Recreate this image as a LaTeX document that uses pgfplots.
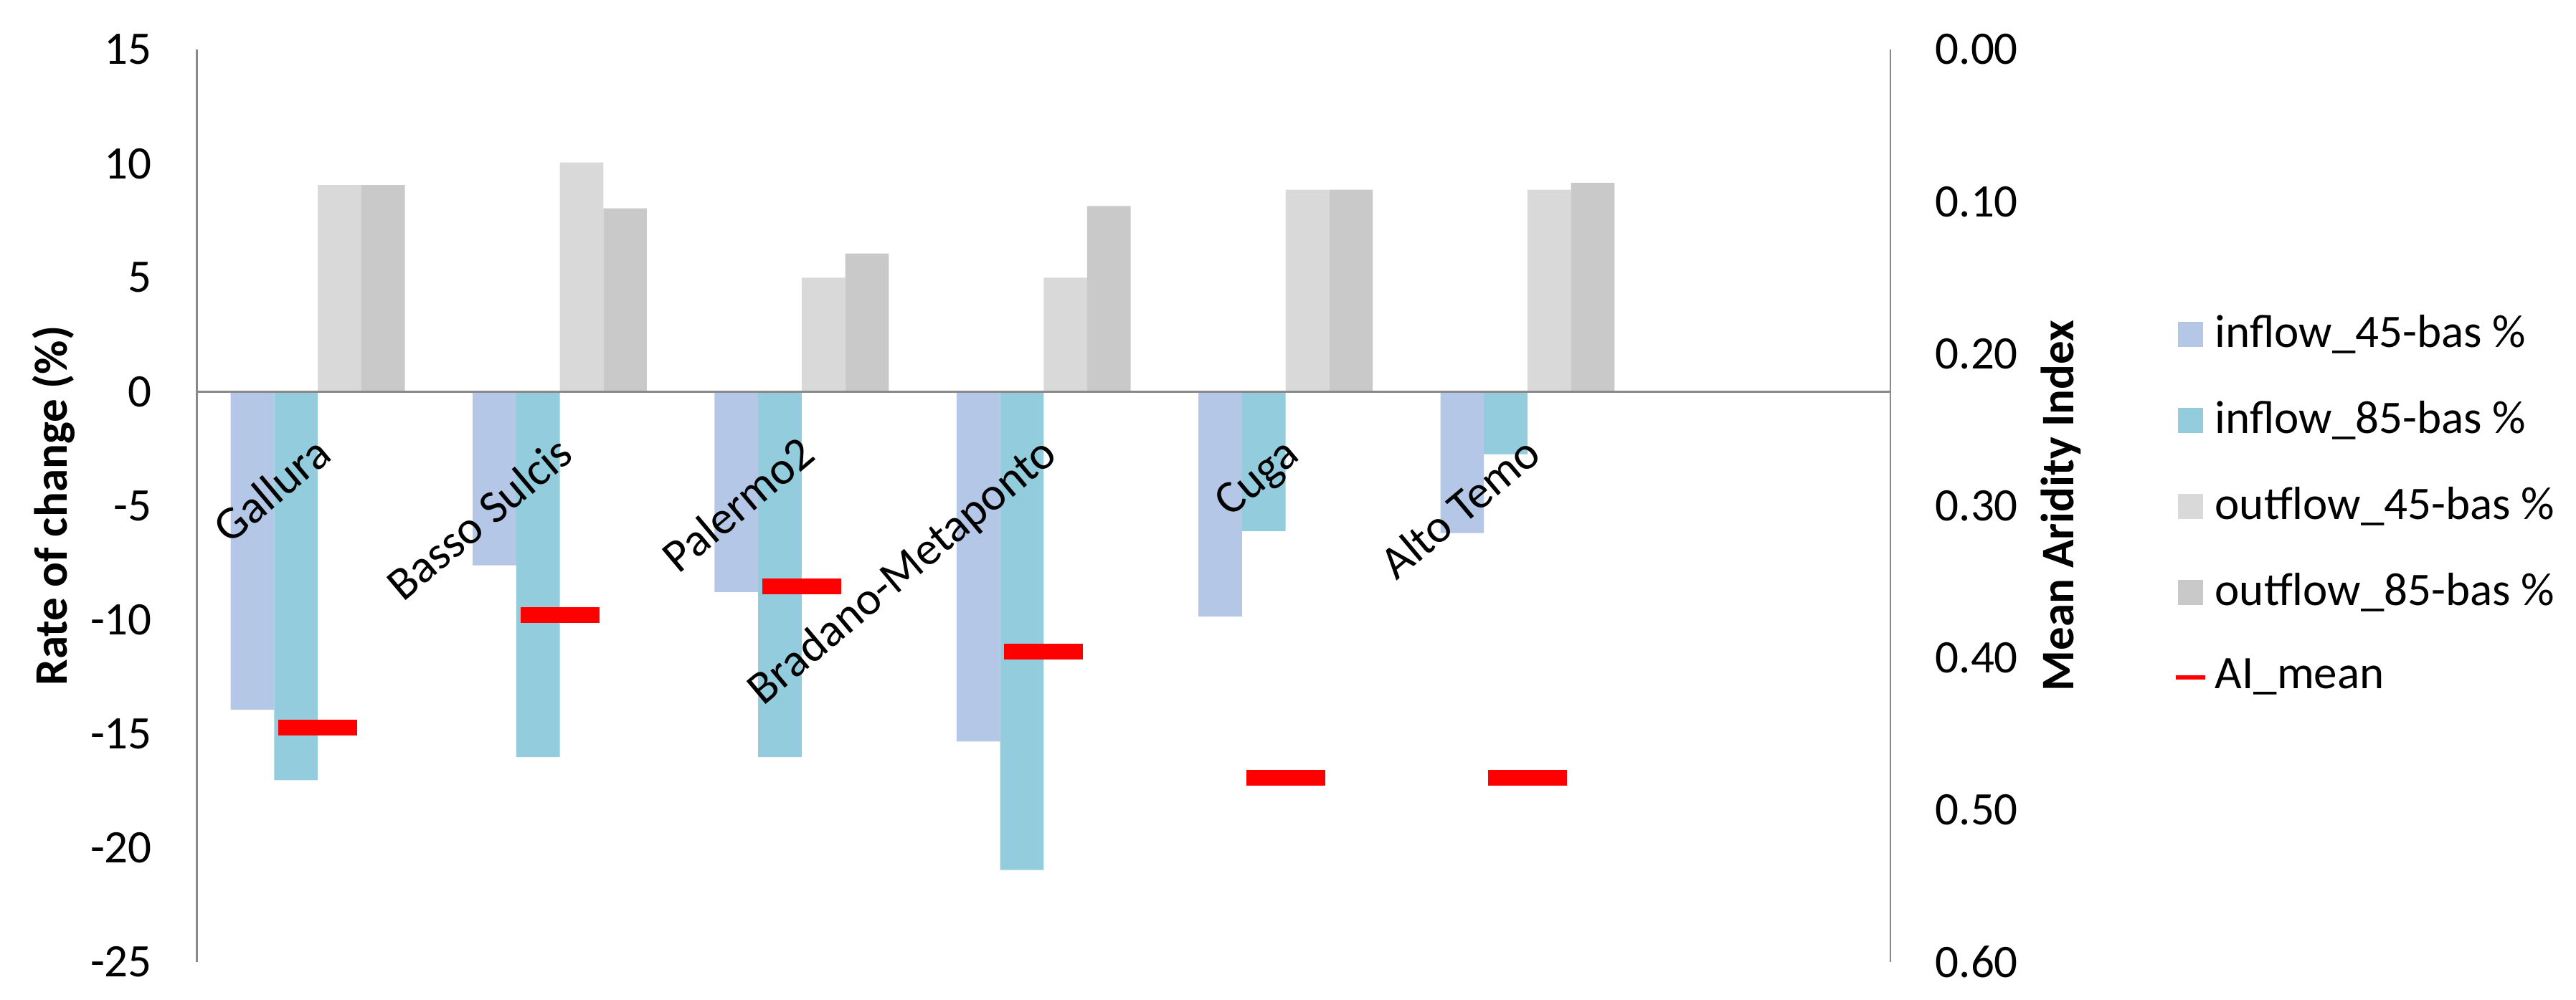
\documentclass[border=0pt]{standalone}
\usepackage{fontspec}
\setmainfont{Carlito}
\usepackage{pgfplots}
\usepackage{pgfplotstable}
\pgfplotsset{compat=1.18}

\definecolor{inA}{HTML}{B4C7E7}
\definecolor{inB}{HTML}{93CDDD}
\definecolor{outA}{HTML}{D9D9D9}
\definecolor{outB}{HTML}{C9C9C9}
\definecolor{axgray}{HTML}{898989}
\definecolor{aired}{HTML}{FF0000}

% short thick dash for the aridity index
\pgfdeclareplotmark{aibar}{%
  \pgfpathrectangle{\pgfpoint{-11pt}{-2.2pt}}{\pgfpoint{22pt}{4.4pt}}%
  \pgfusepathqfill}

\newcommand{\cat}[1]{\rotatebox{40}{\strut #1}}

\pgfplotstableread{
x in45 in85 out45 out85 ai
0 -13.94 -17.03 9.06 9.06 0.446
1 -7.61 -16.02 10.05 8.04 0.372
2 -8.78 -16.02 5.00 6.06 0.353
3 -15.33 -20.97 5.00 8.14 0.396
4 -9.86 -6.11 8.85 8.85 0.479
5 -6.20 -2.74 8.85 9.15 0.479
}\basins

\begin{document}
\fontsize{13}{15.6}\selectfont
\begin{tikzpicture}
\useasboundingbox (-54.9pt,-10.4pt) rectangle (663.5pt,268.4pt);
\begin{axis}[
  at={(0,0)}, anchor=south west,
  scale only axis, width=472.3pt, height=254.6pt,
  xmin=-0.5, xmax=6.5, ymin=-25, ymax=15,
  axis on top,
  axis x line*=middle, axis y line*=left,
  hide obscured x ticks=false, hide obscured y ticks=false,
  axis line style={axgray, line width=0.55pt},
  ybar=0pt, bar width=0.18,
  xtick={0,...,5},
  xticklabels={\cat{Gallura}, \cat{Basso Sulcis}, \cat{Palermo2},
    \cat{Bradano-Metaponto}, \cat{Cuga}, \cat{Alto Temo}},
  xticklabel style={anchor=north east, inner sep=0pt, xshift=7.6pt, yshift=-10pt},
  ytick={-25,-20,-15,-10,-5,0,5,10,15},
  yticklabels={-25,-20,-15,-10,-5,0,5,10,15},
  yticklabel style={xshift=-8pt},
  major tick length=0pt,
  ylabel={\textbf{Rate of change (\%)}},
  ylabel style={at={(axis description cs:-0.0845,0.5)}, anchor=center},
  legend cell align=left,
  legend style={at={(axis description cs:1.1669,0.5004)}, anchor=west,
    draw=none, fill=none, inner sep=0pt, row sep=9pt},
  legend image code/.code={\fill[#1] (0pt,-3.5pt) rectangle (7pt,3.5pt);},
]
\addplot[fill=inA, draw=none] table[x=x, y=in45] {\basins};
\addlegendentry{inflow\_45-bas \%}
\addplot[fill=inB, draw=none] table[x=x, y=in85] {\basins};
\addlegendentry{inflow\_85-bas \%}
\addplot[fill=outA, draw=none] table[x=x, y=out45] {\basins};
\addlegendentry{outflow\_45-bas \%}
\addplot[fill=outB, draw=none] table[x=x, y=out85] {\basins};
\addlegendentry{outflow\_85-bas \%}
\addlegendimage{legend image code/.code={\draw[aired, line width=1.3pt] (-0.6pt,0pt) -- (7.6pt,0pt);}}
\addlegendentry{AI\_mean}
\end{axis}
\begin{axis}[
  at={(0,0)}, anchor=south west,
  scale only axis, width=472.3pt, height=254.6pt,
  xmin=-0.5, xmax=6.5, ymin=0, ymax=0.6, y dir=reverse,
  axis x line=none, axis y line*=right,
  axis line style={axgray, line width=0.55pt},
  ytick={0,0.1,0.2,0.3,0.4,0.5,0.6},
  yticklabels={0.00,0.10,0.20,0.30,0.40,0.50,0.60},
  yticklabel style={xshift=8pt},
  major tick length=0pt,
  ylabel={\textbf{Mean Aridity Index}},
  ylabel style={at={(axis description cs:1.1008,0.5)}, anchor=center, rotate=0},
]
\addplot[only marks, mark=aibar, color=aired] table[x=x, y=ai] {\basins};
\end{axis}
\end{tikzpicture}
\end{document}
